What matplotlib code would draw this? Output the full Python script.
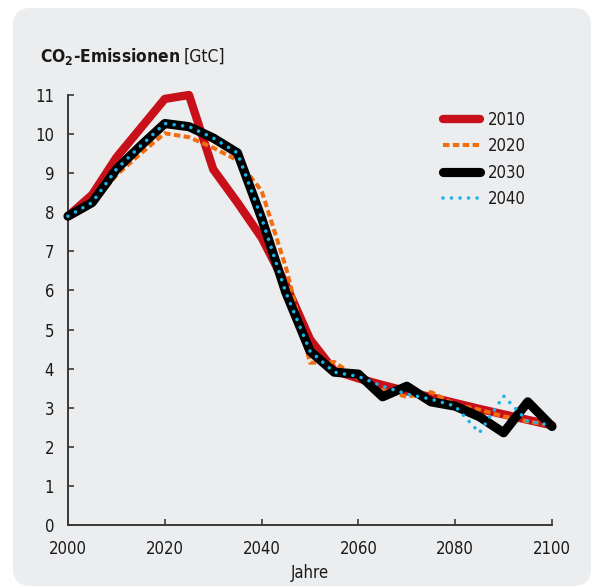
import matplotlib
matplotlib.use("Agg")
import matplotlib.pyplot as plt
from matplotlib.patches import FancyBboxPatch

plt.rcParams['font.family'] = ['DejaVu Sans']
plt.rcParams['font.stretch'] = 'condensed'
plt.rcParams['mathtext.fontset'] = 'custom'
plt.rcParams['mathtext.rm'] = 'DejaVu Sans'
plt.rcParams['mathtext.bf'] = 'DejaVu Sans:bold'

years = list(range(2000, 2101, 5))

em_2010 = [7.9, 8.45, 9.4, 10.15, 10.9, 11.0, 9.1, 8.25, 7.35, 6.15, 4.75, 3.95,
           3.75, 3.58, 3.42, 3.27, 3.12, 2.97, 2.83, 2.69, 2.55]
em_2020 = [7.9, 8.2, 8.95, 9.5, 10.02, 9.92, 9.65, 9.33, 8.55, 6.6, 4.15, 4.17,
           3.75, 3.45, 3.28, 3.4, 3.08, 2.95, 2.78, 2.65, 2.55]
em_2030 = [7.9, 8.25, 9.1, 9.7, 10.27, 10.19, 9.9, 9.52, 7.85, 5.95, 4.45, 3.91,
           3.86, 3.28, 3.55, 3.15, 3.04, 2.77, 2.36, 3.15, 2.52]
em_2040 = [7.9, 8.25, 9.1, 9.7, 10.27, 10.19, 9.9, 9.52, 7.85, 5.95, 4.45, 3.91,
           3.8, 3.55, 3.35, 3.22, 3.04, 2.36, 3.3, 2.65, 2.55]

series_labels = ["2010", "2020", "2030", "2040"]

x_ticks = [2000, 2020, 2040, 2060, 2080, 2100]
y_ticks = list(range(0, 12))

W, H = 592, 588
fig = plt.figure(figsize=(W / 100, H / 100), dpi=100)
fig.patch.set_facecolor("white")

# rounded grey panel behind the chart
panel = FancyBboxPatch((13 / W, 2 / H), 578 / W, 578 / H,
                       boxstyle="round,pad=0,rounding_size=0.03",
                       transform=fig.transFigure, facecolor="#ecedef",
                       edgecolor="none", zorder=-10)
fig.patches.append(panel)

ax = fig.add_axes([68 / W, 1 - 525 / H, (552 - 68) / W, (525 - 95) / H])
ax.set_zorder(5)
ax.set_facecolor("none")

red = "#c8101a"
orange = "#f06e0f"
black = "#000000"
blue = "#1ab4ea"

ax.plot(years, em_2010, color=red, lw=6.0, solid_capstyle="round",
        solid_joinstyle="round", clip_on=False, zorder=2, label=series_labels[0])
ax.plot(years, em_2020, color=orange, lw=2.9, linestyle=(0, (1.6, 0.85)),
        dash_capstyle="butt", clip_on=False, zorder=3, label=series_labels[1])
ax.plot(years, em_2030, color=black, lw=6.6, solid_capstyle="round",
        solid_joinstyle="round", clip_on=False, zorder=4, label=series_labels[2])
ax.plot(years, em_2040, color=blue, lw=2.6, linestyle=(0, (0.01, 2.35)),
        dash_capstyle="round", clip_on=False, zorder=5, label=series_labels[3])

ax.set_xlim(2000, 2100)
ax.set_ylim(0, 11)
ax.set_xticks(x_ticks)
ax.set_yticks(y_ticks)
for s in ["top", "right"]:
    ax.spines[s].set_visible(False)
for s in ["left", "bottom"]:
    ax.spines[s].set_color("#3a3a3a")
    ax.spines[s].set_linewidth(1.4)
ax.tick_params(direction="in", length=4, width=1.2, color="#3a3a3a",
               labelsize=12, labelcolor="#1a1a1a")
ax.tick_params(axis="x", pad=11)
ax.tick_params(axis="y", pad=10)

ax.set_xlabel("Jahre", fontsize=12, color="#1a1a1a", labelpad=4)

# title: bold quantity with subscript, followed by the unit in regular weight
t1 = fig.text(40 / W, 1 - 62 / H, r"CO$\mathbf{_2}$-Emissionen", fontsize=12.5,
              fontweight="bold", color="#1a1a1a", ha="left", va="baseline")
fig.canvas.draw()
bb = t1.get_window_extent(renderer=fig.canvas.get_renderer())
fig.text(bb.x1 / W + 3 / W, 1 - 62 / H, "[GtC]", fontsize=12.5,
         color="#1a1a1a", ha="left", va="baseline")

leg = ax.legend(loc="upper left", bbox_to_anchor=(428 / W, 1 - 96 / H),
                bbox_transform=fig.transFigure, frameon=False, fontsize=12,
                handlelength=2.2, handletextpad=0.5, labelspacing=0.5)
for txt in leg.get_texts():
    txt.set_color("#1a1a1a")

fig.savefig("out.png", dpi=100, facecolor="white")
